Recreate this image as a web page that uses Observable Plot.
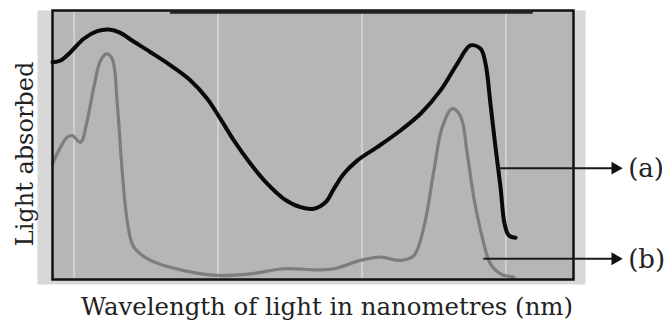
<!DOCTYPE html>
<html>
<head>
<meta charset="utf-8">
<script src="https://cdn.jsdelivr.net/npm/d3@7"></script>
<script src="https://cdn.jsdelivr.net/npm/@observablehq/plot@0.6"></script>
<style>
  html, body { margin: 0; padding: 0; background: #fff; }
  #chart { width: 668px; height: 327px; }
</style>
</head>
<body>
<div id="chart"></div>
<script>
// Wavelength (nm) and relative absorbance (0–100)
const wavelengthA = [385, 390.6, 397.5, 406.7, 416.1, 424.1, 432.2, 439.2, 453.1, 467.0, 480.9, 492.5, 501.7, 511.0, 522.6, 534.2, 545.7, 557.3, 566.6, 574.7, 580.5, 587.4, 596.7, 610.6, 626.8, 640.7, 654.6, 666.2, 675.4, 682.4, 685.9, 689.3, 692.8, 696.3, 699.1, 702.0, 706.7];
const absorbA    = [80.8, 81.4, 84.5, 89.5, 92.3, 92.9, 91.7, 89.2, 84.5, 79.6, 74.0, 67.2, 59.7, 51.7, 43.0, 35.6, 30.0, 26.9, 26.3, 28.7, 33.7, 39.3, 44.2, 49.2, 55.4, 61.6, 70.3, 80.2, 87.0, 85.8, 80.2, 65.3, 49.2, 34.3, 20.7, 16.4, 15.5];

const wavelengthB = [385, 389.4, 395.2, 398.7, 404.5, 409.1, 413.7, 418.4, 422.5, 426.5, 430.0, 433.4, 436.9, 441.5, 453.1, 476.2, 499.4, 522.6, 545.7, 568.9, 580.5, 599.0, 612.9, 626.8, 636.1, 643.0, 650.0, 655.8, 662.8, 668.5, 673.2, 677.7, 683.6, 689.3, 696.3, 705.5];
const absorbB    = [43.0, 48.0, 52.9, 53.5, 51.0, 59.1, 71.5, 81.4, 83.9, 82.0, 65.3, 40.5, 21.9, 12.0, 7.1, 3.3, 1.5, 2.1, 4.0, 3.6, 4.0, 7.1, 8.3, 7.1, 8.9, 19.4, 40.5, 56.6, 63.5, 60.7, 46.7, 30.6, 15.7, 5.8, 2.1, 0.9];

const gridWavelengths = [400, 500, 600, 700];
const topBar = [{x1: 467, x2: 719, y: 100}];

const calloutLabels = ["(a)", "(b)"];
const calloutStart  = [694.9, 684.7];   // wavelength where each pointer starts
const calloutEnd    = [776, 776];
const calloutLevel  = [41.4, 7.7];      // absorbance level of each pointer
const calloutText   = [785, 785];

const xLabel = "Wavelength of light in nanometres (nm)";
const yLabel = "Light absorbed";

const seriesA = wavelengthA.map((w, i) => ({w, v: absorbA[i]}));
const seriesB = wavelengthB.map((w, i) => ({w, v: absorbB[i]}));
const callouts = calloutLabels.map((label, i) => ({label, x1: calloutStart[i], x2: calloutEnd[i], y: calloutLevel[i], lx: calloutText[i]}));

const font = "'DejaVu Serif', 'Liberation Serif', serif";

const chart = Plot.plot({
  width: 668,
  height: 327,
  marginLeft: 52,
  marginRight: 95,
  marginTop: 10,
  marginBottom: 48,
  x: {domain: [385, 747], axis: null},
  y: {domain: [0, 100], axis: null},
  style: {background: "#fff", fontFamily: font, overflow: "visible"},
  marks: [
    Plot.frame({fill: "#d8d8d8", insetLeft: -15, insetRight: -12, insetBottom: -5}),
    Plot.frame({fill: "#b6b6b6"}),
    Plot.ruleX(gridWavelengths, {stroke: "#d0d0d0", strokeWidth: 2}),
    Plot.line(seriesB, {x: "w", y: "v", stroke: "#7d7d7d", strokeWidth: 3.2, curve: "catmull-rom"}),
    Plot.line(seriesA, {x: "w", y: "v", stroke: "#0a0a0a", strokeWidth: 4, curve: "catmull-rom"}),
    Plot.frame({stroke: "#111", strokeWidth: 2.5}),
    Plot.ruleY(topBar, {y: "y", x1: "x1", x2: "x2", stroke: "#222", strokeWidth: 3.5, dy: 1.5}),
    Plot.ruleY(callouts, {y: "y", x1: "x1", x2: "x2", stroke: "#1a1a1a", strokeWidth: 2}),
    Plot.dot(callouts, {x: "x2", y: "y", symbol: "triangle", rotate: 90, r: 4.8, fill: "#111", stroke: null}),
    Plot.text(callouts, {x: "lx", y: "y", text: "label", textAnchor: "start", fontSize: 26, fill: "#222", dy: 1}),
    Plot.text([xLabel], {text: d => d, frameAnchor: "bottom", textAnchor: "middle", lineAnchor: "middle", dy: 28, dx: 14, fontSize: 24.4, fill: "#222"}),
    Plot.text([yLabel], {text: d => d, frameAnchor: "left", textAnchor: "middle", lineAnchor: "middle", rotate: -90, dx: -27, dy: 9, fontSize: 24, fill: "#222"})
  ]
});
document.getElementById("chart").appendChild(chart);
</script>
</body>
</html>
